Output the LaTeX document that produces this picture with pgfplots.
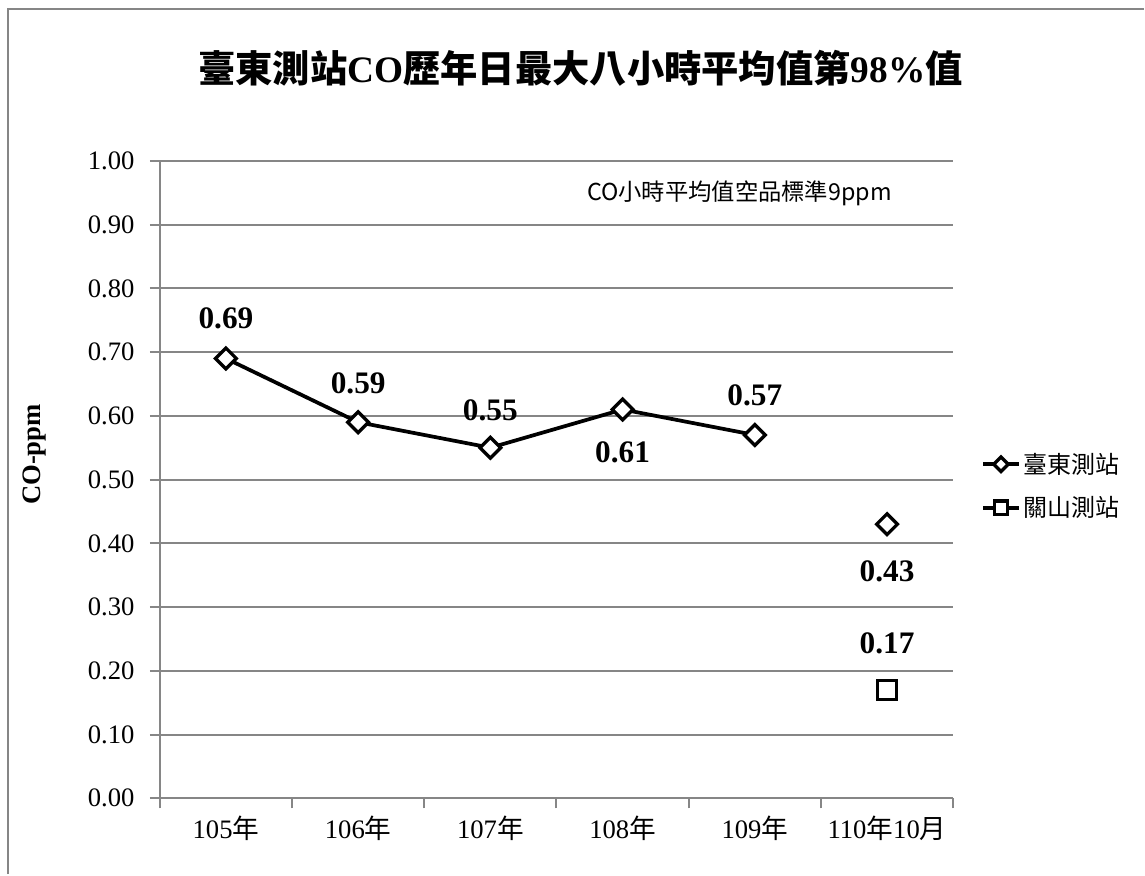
\documentclass[border=0pt]{standalone}
\usepackage{fontspec}
\setmainfont{Liberation Serif}
\newfontfamily\cjk{Noto Sans CJK TC}
\usepackage{pgfplots}
\pgfplotsset{compat=1.18}
\definecolor{gridgray}{RGB}{134,134,134}

\begin{document}
\begin{tikzpicture}
\begin{axis}[
  width=595.5pt, height=478.5pt, scale only axis,
  xmin=-0.5, xmax=5.5, ymin=0, ymax=1,
  xtick={-0.5,0.5,...,5.5}, xticklabels={},
  extra x ticks={0,1,2,3,4,5},
  extra x tick labels={105{\cjk 年},106{\cjk 年},107{\cjk 年},108{\cjk 年},109{\cjk 年},110{\cjk 年}10{\cjk 月}},
  extra x tick style={major tick length=0pt, grid=none, xticklabel style={yshift=-10pt}},
  ytick={0,0.1,0.2,0.3,0.4,0.5,0.6,0.7,0.8,0.9,1.0},
  tick align=outside,
  axis x line*=bottom, axis y line*=left,
  axis line style={gridgray,line width=1.5pt,-},
  ymajorgrids, grid style={gridgray,line width=1.5pt},
  tick style={gridgray,line width=1.5pt}, major tick length=7.5pt,
  yticklabel style={xshift=-8pt,/pgf/number format/.cd,fixed,fixed zerofill,precision=2,assume math mode=true},
  ticklabel style={font=\fontsize{20}{23}\selectfont},
  legend style={at={(1.03,0.49)}, anchor=west, draw=none, fill=none,
    font=\fontsize{18}{21}\selectfont\cjk, row sep=12pt, cells={anchor=west}},
  legend image code/.code={\draw[mark repeat=2,mark phase=2,every mark/.append style={scale=0.7}] plot coordinates {(0pt,0pt)(13.5pt,0pt)(27pt,0pt)};},
  unbounded coords=jump,
  clip=false,
]
\path (rel axis cs:-0.2015,1.2524) rectangle (rel axis cs:1.2406,-0.1191);
\draw[gridgray,line width=1.5pt] (rel axis cs:-0.1914,-0.1191) -- (rel axis cs:-0.1914,1.2382) -- (rel axis cs:1.2406,1.2382);
\node[font=\fontsize{28}{32}\selectfont\bfseries] at (rel axis cs:0.5302,1.1458) {{\cjk 臺東測站}CO{\cjk 歷年日最大八小時平均值第}98\%{\cjk 值}};
\node[font=\fontsize{20}{23}\selectfont\bfseries,rotate=90] at (rel axis cs:-0.1574,0.5392) {CO-ppm};
\node[font=\fontsize{17.5}{20}\selectfont\cjk] at (rel axis cs:0.7305,0.9498) {CO小時平均值空品標準9ppm};
\addplot[black, line width=2.8pt, mark=diamond*, mark size=7.8pt, mark options={fill=white, line width=2.5pt, solid, xscale=1.333}]
  coordinates {(0,0.69) (1,0.59) (2,0.55) (3,0.61) (4,0.57) (4.5,nan) (5,0.43)};
\addlegendentry{臺東測站}
\addplot[black, line width=2.8pt, mark=square*, mark size=7.2pt, mark options={fill=white, line width=2.5pt, solid}]
  coordinates {(5,0.17)};
\addlegendentry{關山測站}
\begin{scope}[font=\fontsize{23.5}{27}\selectfont\bfseries]
\node at (axis cs:0,0.69) [yshift=30pt] {0.69};
\node at (axis cs:1,0.59) [yshift=29pt] {0.59};
\node at (axis cs:2,0.55) [yshift=28pt] {0.55};
\node at (axis cs:3,0.61) [yshift=-32pt] {0.61};
\node at (axis cs:4,0.57) [yshift=30pt] {0.57};
\node at (axis cs:5,0.43) [yshift=-35pt] {0.43};
\node at (axis cs:5,0.17) [yshift=35pt] {0.17};
\end{scope}
\end{axis}
\end{tikzpicture}
\end{document}
